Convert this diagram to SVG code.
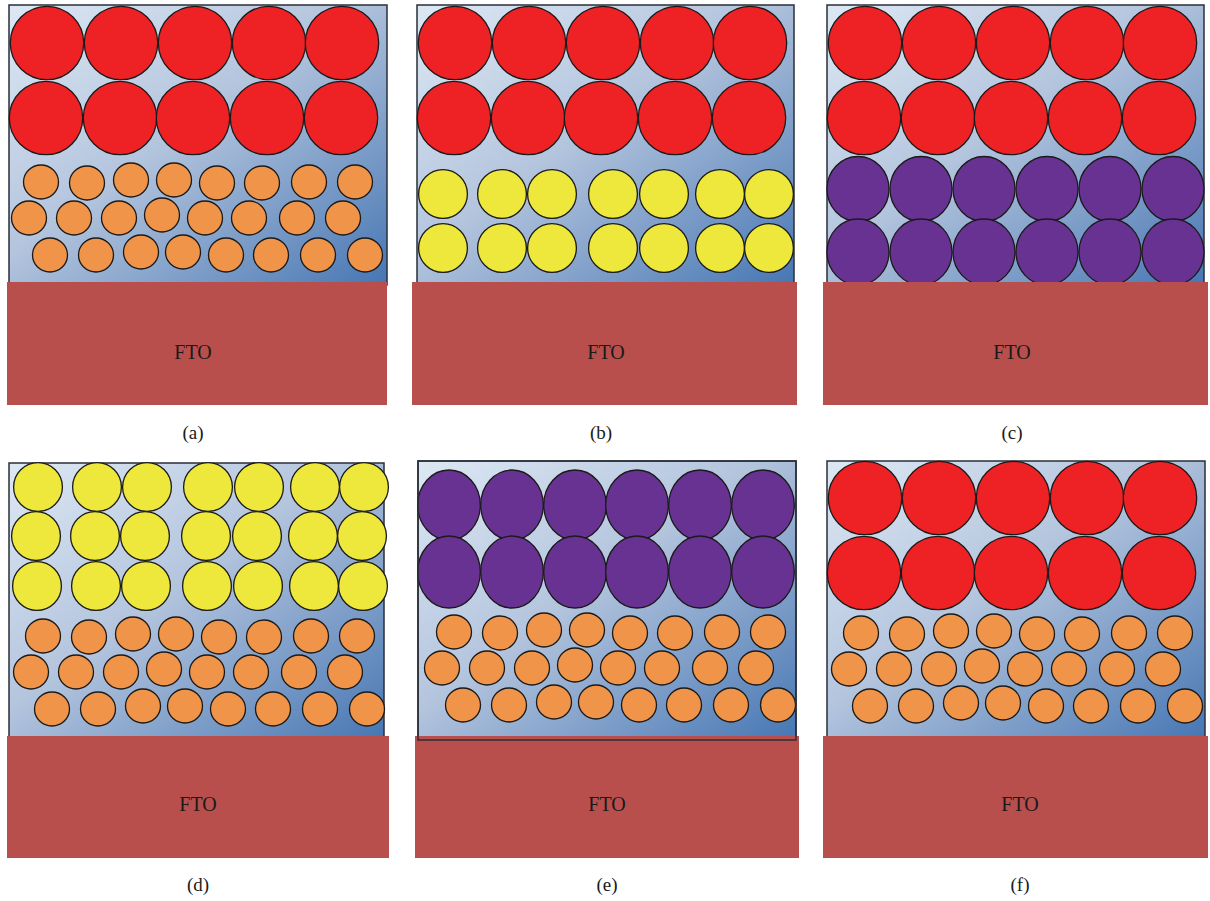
<svg xmlns="http://www.w3.org/2000/svg" xmlns:xlink="http://www.w3.org/1999/xlink" width="1210" height="901" viewBox="0 0 1210 901">
<style>
.box{stroke:#2a2f38;stroke-width:1.5}
.fto{fill:#b94f4d}
.red{fill:#ee2224;stroke:#1a1a1a;stroke-width:1.3}
.org{fill:#ef9448;stroke:#1a1a1a;stroke-width:1.3}
.yel{fill:#efe83c;stroke:#1a1a1a;stroke-width:1.3}
.pur{fill:#683292;stroke:#1a1a1a;stroke-width:1.3}
.lbl{font-family:"Liberation Serif","DejaVu Serif",serif;fill:#1a1a1a;text-anchor:middle}
.ft{font-size:20px}
.cap{font-size:19px}
</style>
<defs>
<linearGradient id="bg" x1="0" y1="0" x2="1" y2="1">
<stop offset="0" stop-color="#dde8f4"/>
<stop offset="0.45" stop-color="#b3c4dd"/>
<stop offset="1" stop-color="#4676b3"/>
</linearGradient>
<g id="orange">
<ellipse class="org" cx="0" cy="0" rx="17.5" ry="17"/>
<ellipse class="org" cx="46" cy="1" rx="17.5" ry="17"/>
<ellipse class="org" cx="90" cy="-2" rx="17.5" ry="17"/>
<ellipse class="org" cx="133" cy="-2" rx="17.5" ry="17"/>
<ellipse class="org" cx="176" cy="1" rx="17.5" ry="17"/>
<ellipse class="org" cx="221" cy="1" rx="17.5" ry="17"/>
<ellipse class="org" cx="268" cy="0" rx="17.5" ry="17"/>
<ellipse class="org" cx="314" cy="0" rx="17.5" ry="17"/>
<ellipse class="org" cx="-12" cy="36" rx="17.5" ry="17"/>
<ellipse class="org" cx="33" cy="36" rx="17.5" ry="17"/>
<ellipse class="org" cx="78" cy="36" rx="17.5" ry="17"/>
<ellipse class="org" cx="121" cy="33" rx="17.5" ry="17"/>
<ellipse class="org" cx="164" cy="36" rx="17.5" ry="17"/>
<ellipse class="org" cx="208" cy="36" rx="17.5" ry="17"/>
<ellipse class="org" cx="256" cy="36" rx="17.5" ry="17"/>
<ellipse class="org" cx="302" cy="36" rx="17.5" ry="17"/>
<ellipse class="org" cx="9" cy="73" rx="17.5" ry="17"/>
<ellipse class="org" cx="55" cy="73" rx="17.5" ry="17"/>
<ellipse class="org" cx="100" cy="70" rx="17.5" ry="17"/>
<ellipse class="org" cx="142" cy="70" rx="17.5" ry="17"/>
<ellipse class="org" cx="185" cy="73" rx="17.5" ry="17"/>
<ellipse class="org" cx="230" cy="73" rx="17.5" ry="17"/>
<ellipse class="org" cx="277" cy="73" rx="17.5" ry="17"/>
<ellipse class="org" cx="324" cy="73" rx="17.5" ry="17"/>
</g>
<g id="red2">
<circle class="red" cx="0" cy="0" r="36.7"/>
<circle class="red" cx="74" cy="0" r="36.7"/>
<circle class="red" cx="148" cy="0" r="36.7"/>
<circle class="red" cx="222" cy="0" r="36.7"/>
<circle class="red" cx="295" cy="0" r="36.7"/>
<circle class="red" cx="-1" cy="75" r="36.7"/>
<circle class="red" cx="73" cy="75" r="36.7"/>
<circle class="red" cx="146" cy="75" r="36.7"/>
<circle class="red" cx="220" cy="75" r="36.7"/>
<circle class="red" cx="294" cy="75" r="36.7"/>
</g>
<g id="yrow">
<circle class="yel" cx="0" cy="0" r="24.4"/>
<circle class="yel" cx="59" cy="0" r="24.4"/>
<circle class="yel" cx="109" cy="0" r="24.4"/>
<circle class="yel" cx="170" cy="0" r="24.4"/>
<circle class="yel" cx="221" cy="0" r="24.4"/>
<circle class="yel" cx="277" cy="0" r="24.4"/>
<circle class="yel" cx="326" cy="0" r="24.4"/>
</g>
</defs>

<g id="panel-a">
<rect class="box" x="9" y="5" width="378" height="280" fill="url(#bg)"/>
<use xlink:href="#red2" x="47" y="43"/>
<use xlink:href="#orange" x="41" y="182"/>
<rect class="fto" x="7" y="282" width="380" height="123"/>
<text class="lbl ft" x="193" y="359">FTO</text>
<text class="lbl cap" x="193" y="439">(a)</text>
</g>

<g id="panel-b">
<rect class="box" x="417" y="5" width="377" height="280" fill="url(#bg)"/>
<use xlink:href="#red2" x="455" y="43"/>
<use xlink:href="#yrow" x="443" y="194"/>
<use xlink:href="#yrow" x="443" y="248"/>
<rect class="fto" x="412" y="282" width="385" height="123"/>
<text class="lbl ft" x="606" y="359">FTO</text>
<text class="lbl cap" x="601" y="439">(b)</text>
</g>

<g id="panel-c">
<rect class="box" x="827" y="5" width="377" height="280" fill="url(#bg)"/>
<use xlink:href="#red2" x="865" y="43"/>
<g>
<ellipse class="pur" cx="858" cy="189" rx="31" ry="32.5"/>
<ellipse class="pur" cx="921" cy="189" rx="31" ry="32.5"/>
<ellipse class="pur" cx="984" cy="189" rx="31" ry="32.5"/>
<ellipse class="pur" cx="1047" cy="189" rx="31" ry="32.5"/>
<ellipse class="pur" cx="1110" cy="189" rx="31" ry="32.5"/>
<ellipse class="pur" cx="1173" cy="189" rx="31" ry="32.5"/>
<ellipse class="pur" cx="858" cy="252" rx="31" ry="33"/>
<ellipse class="pur" cx="921" cy="252" rx="31" ry="33"/>
<ellipse class="pur" cx="984" cy="252" rx="31" ry="33"/>
<ellipse class="pur" cx="1047" cy="252" rx="31" ry="33"/>
<ellipse class="pur" cx="1110" cy="252" rx="31" ry="33"/>
<ellipse class="pur" cx="1173" cy="252" rx="31" ry="33"/>
</g>
<rect class="fto" x="823" y="282" width="385" height="123"/>
<text class="lbl ft" x="1012" y="359">FTO</text>
<text class="lbl cap" x="1012" y="439">(c)</text>
</g>

<g id="panel-d">
<rect class="box" x="9" y="463" width="375" height="276" fill="url(#bg)"/>
<use xlink:href="#yrow" x="38" y="487"/>
<use xlink:href="#yrow" x="36" y="536"/>
<use xlink:href="#yrow" x="37" y="586"/>
<use xlink:href="#orange" x="43" y="636"/>
<rect class="fto" x="7" y="736" width="382" height="122"/>
<text class="lbl ft" x="198" y="811">FTO</text>
<text class="lbl cap" x="198" y="891">(d)</text>
</g>

<g id="panel-e">
<rect class="box" x="418" y="461" width="378" height="279" fill="url(#bg)"/>
<g>
<ellipse class="pur" cx="449" cy="505" rx="31.3" ry="35"/>
<ellipse class="pur" cx="512" cy="505" rx="31.3" ry="35"/>
<ellipse class="pur" cx="575" cy="505" rx="31.3" ry="35"/>
<ellipse class="pur" cx="637" cy="505" rx="31.3" ry="35"/>
<ellipse class="pur" cx="700" cy="505" rx="31.3" ry="35"/>
<ellipse class="pur" cx="763" cy="505" rx="31.3" ry="35"/>
<ellipse class="pur" cx="449" cy="572" rx="31.3" ry="36"/>
<ellipse class="pur" cx="512" cy="572" rx="31.3" ry="36"/>
<ellipse class="pur" cx="575" cy="572" rx="31.3" ry="36"/>
<ellipse class="pur" cx="637" cy="572" rx="31.3" ry="36"/>
<ellipse class="pur" cx="700" cy="572" rx="31.3" ry="36"/>
<ellipse class="pur" cx="763" cy="572" rx="31.3" ry="36"/>
</g>
<use xlink:href="#orange" x="454" y="632"/>
<rect class="fto" x="415" y="736" width="384" height="122"/>
<rect x="418" y="461" width="378" height="279" fill="none" class="box"/>
<text class="lbl ft" x="607" y="811">FTO</text>
<text class="lbl cap" x="607" y="891">(e)</text>
</g>

<g id="panel-f">
<rect class="box" x="827" y="461" width="378" height="278" fill="url(#bg)"/>
<use xlink:href="#red2" x="865" y="498"/>
<use xlink:href="#orange" x="861" y="633"/>
<rect class="fto" x="823" y="736" width="385" height="122"/>
<text class="lbl ft" x="1020" y="811">FTO</text>
<text class="lbl cap" x="1020" y="891">(f)</text>
</g>
</svg>
